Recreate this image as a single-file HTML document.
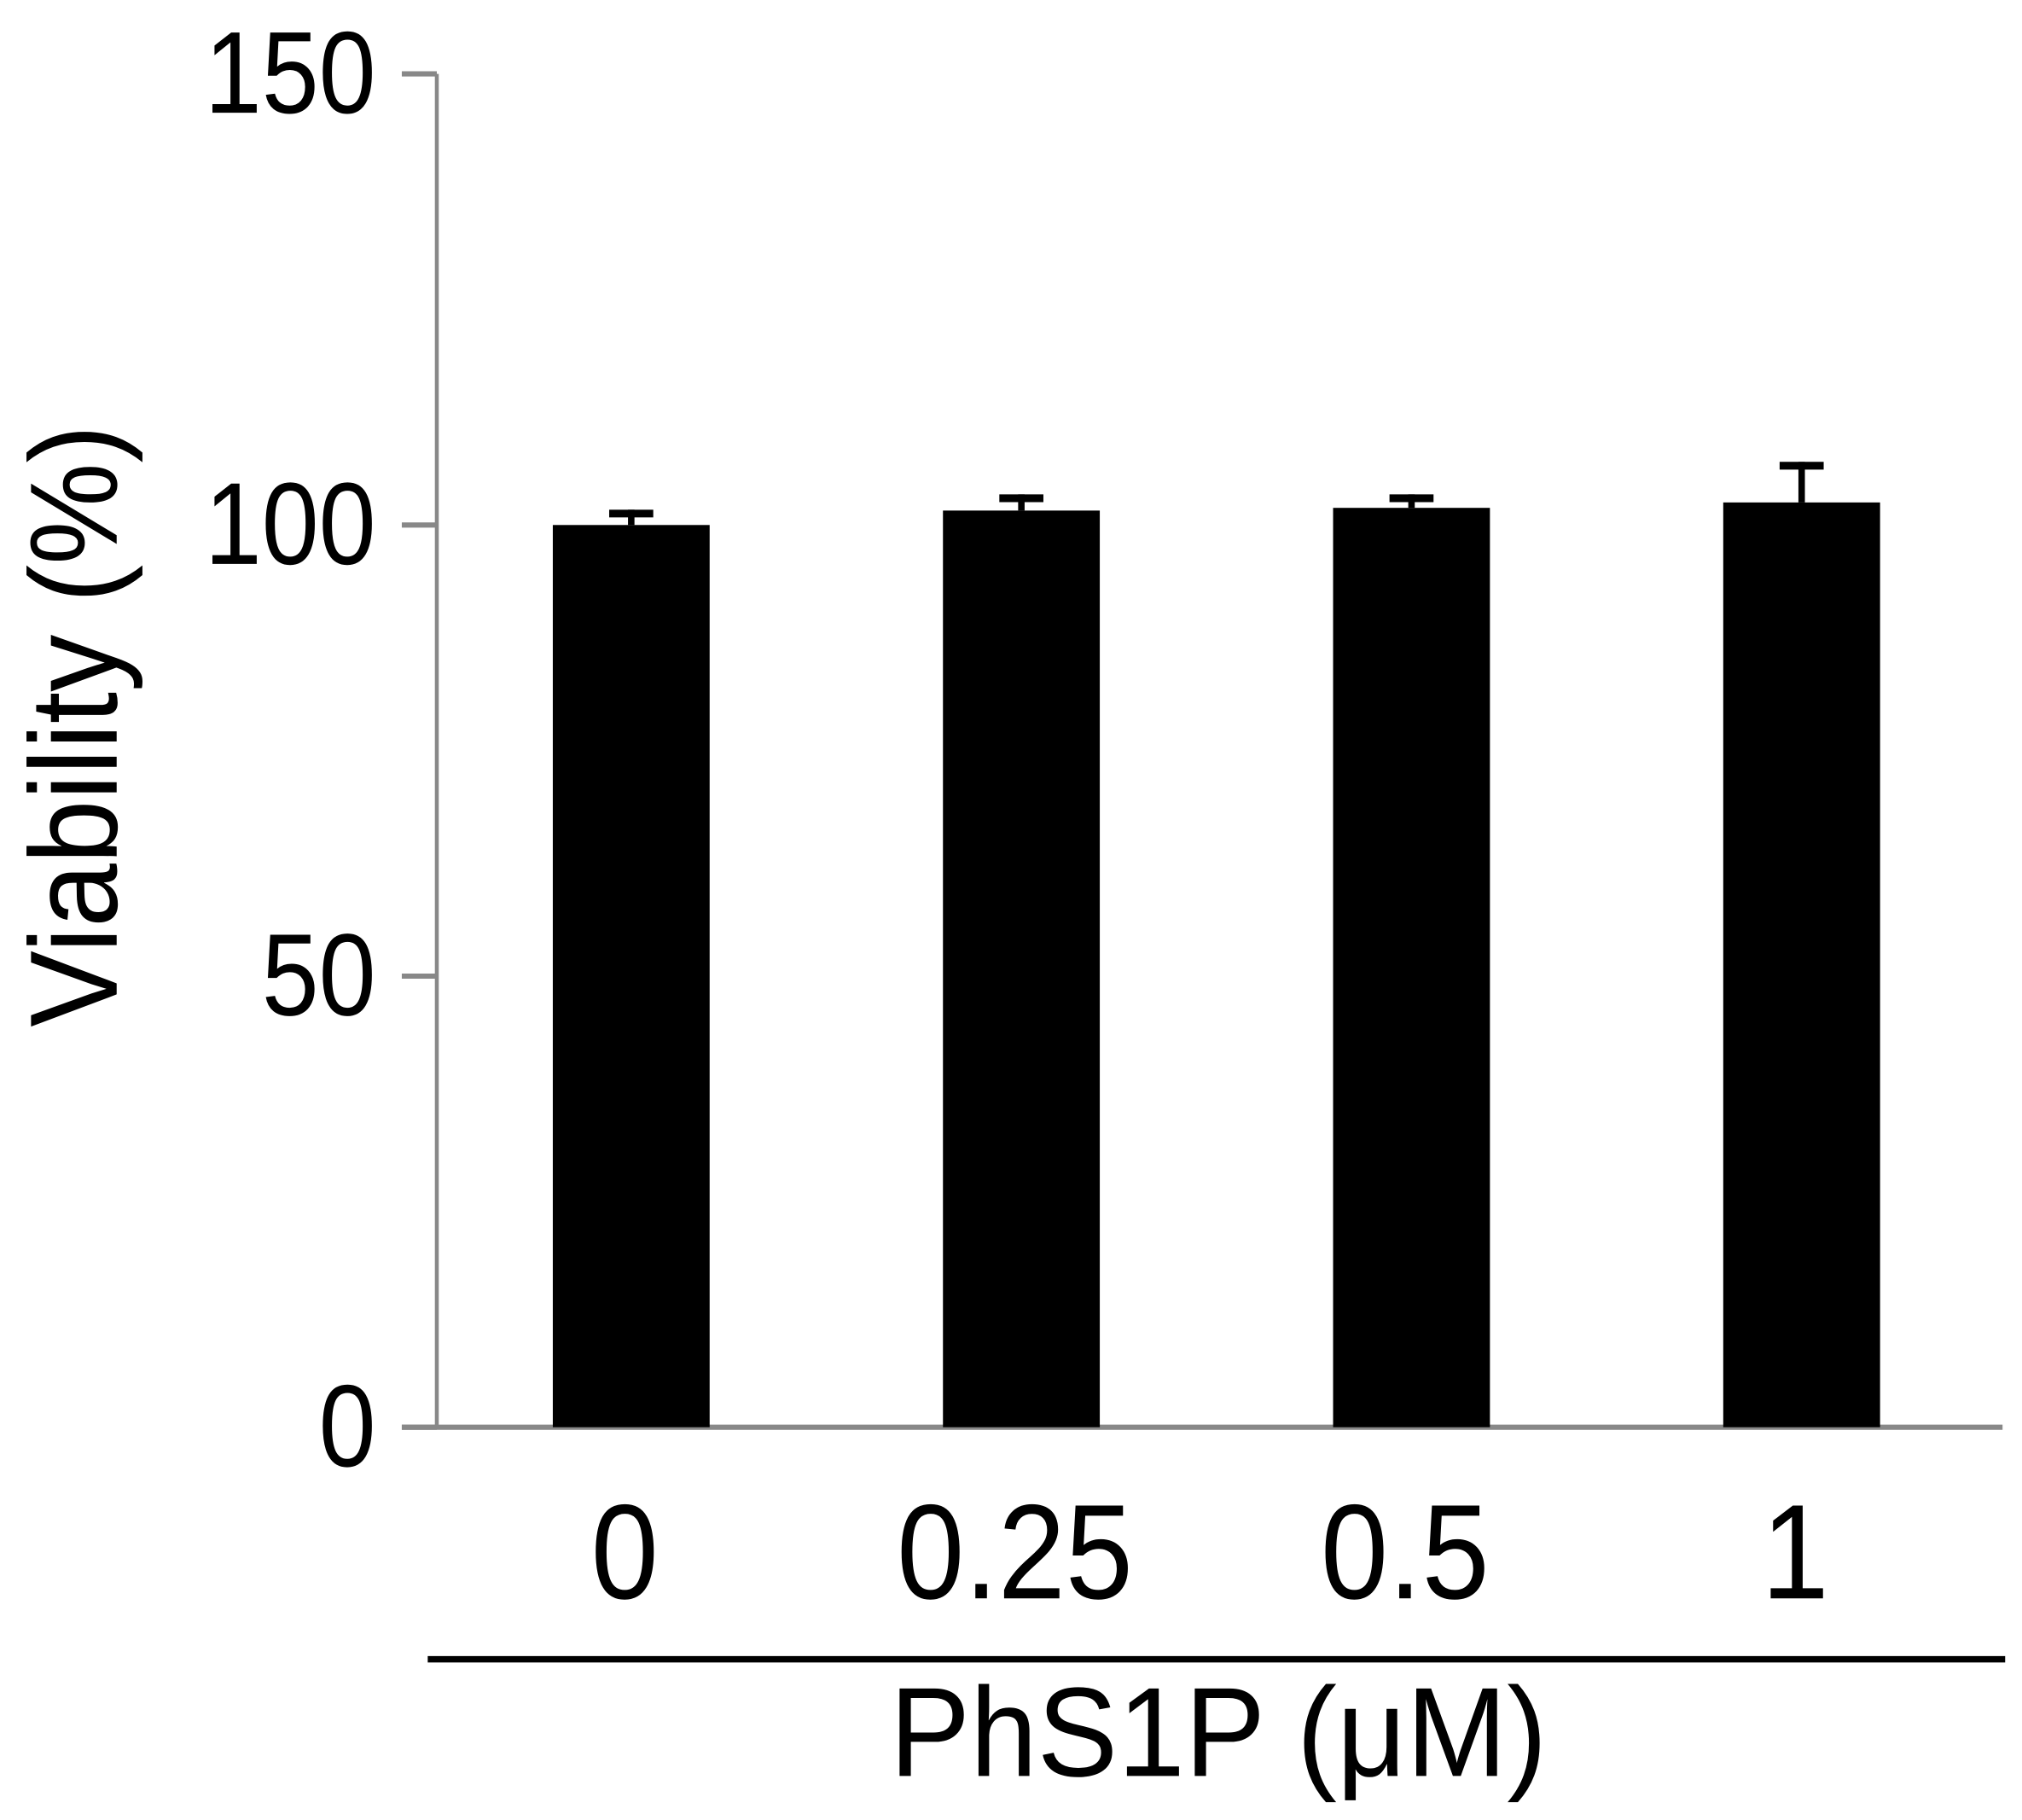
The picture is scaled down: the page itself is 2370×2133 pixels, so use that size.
<!DOCTYPE html>
<html><head><meta charset="utf-8"><style>
html,body{margin:0;padding:0;background:#fff;}
svg{display:block;}
text{font-family:"Liberation Sans",Arial,sans-serif;fill:#000;}
</style></head><body>
<svg id="chart" width="2370" height="2133" viewBox="0 0 1560 1404" preserveAspectRatio="none" xmlns="http://www.w3.org/2000/svg">
<g id="axes"></g>
<g id="bars"></g>
<text transform="translate(90,560) rotate(-90) scale(0.92,1)" text-anchor="middle" font-size="96">Viability (%)</text>
<line x1="330" y1="1280" x2="1547" y2="1280" stroke="#000" stroke-width="5"/>
<text transform="translate(940,1370) scale(0.95,1)" text-anchor="middle" font-size="98">PhS1P (μM)</text>
</svg>
<script>
const categories = ["0", "0.25", "0.5", "1"];
const values = [100, 101.6, 101.9, 102.5];
const errors = [1.7, 1.8, 1.5, 4.5];
const yTicks = [0, 50, 100, 150];

const NS = "http://www.w3.org/2000/svg";
const y0 = 1101, yTop = 57, yMax = 150;
const yScale = v => y0 - (v / yMax) * (y0 - yTop);
const xStart = 337, xEnd = 1545, xOffset = 487, step = 301;
const xScale = i => xOffset + i * step;
const barW = 121;

const axes = document.getElementById('axes');
const bars = document.getElementById('bars');
function mk(tag, attrs, parent) {
  const el = document.createElementNS(NS, tag);
  for (const k in attrs) el.setAttribute(k, attrs[k]);
  parent.appendChild(el);
  return el;
}
const yAxis = mk('line', {x1: xStart, y1: yScale(150), x2: xStart, y2: y0, stroke: '#888', 'stroke-width': 3}, axes);


const xAxis = mk('line', {x1: 310, y1: y0, x2: xEnd, y2: y0, stroke: '#888', 'stroke-width': 4}, axes);



yTicks.forEach(t => {
  const y = yScale(t);
  const tk = mk('line', {x1: 310, y1: y, x2: xStart, y2: y, stroke: '#888', 'stroke-width': 4}, axes);
  
  
  const lb = mk('text', {transform: `translate(290,${y + 30}) scale(0.88,1)`, 'text-anchor': 'end', 'font-size': 90}, axes);
  lb.textContent = t;
  
  
});

categories.forEach((c, i) => {
  const cx = xScale(i);
  const top = yScale(values[i]);
  const r = mk('rect', {x: cx - barW / 2, y: top, width: barW, height: y0 - top, fill: '#000'}, bars);
  
  
  const et = yScale(values[i] + errors[i]);
  const st = mk('line', {x1: cx, y1: et, x2: cx, y2: top, stroke: '#000', 'stroke-width': 5}, bars);
  
  
  const cap = mk('line', {x1: cx - 17, y1: et + 3, x2: cx + 17, y2: et + 3, stroke: '#000', 'stroke-width': 6}, bars);
  
  
  const lb = mk('text', {transform: `translate(${cx - 5},1233) scale(0.9,1)`, 'text-anchor': 'middle', 'font-size': 104}, bars);
  lb.textContent = c;
  
  
});
</script>
</body></html>
